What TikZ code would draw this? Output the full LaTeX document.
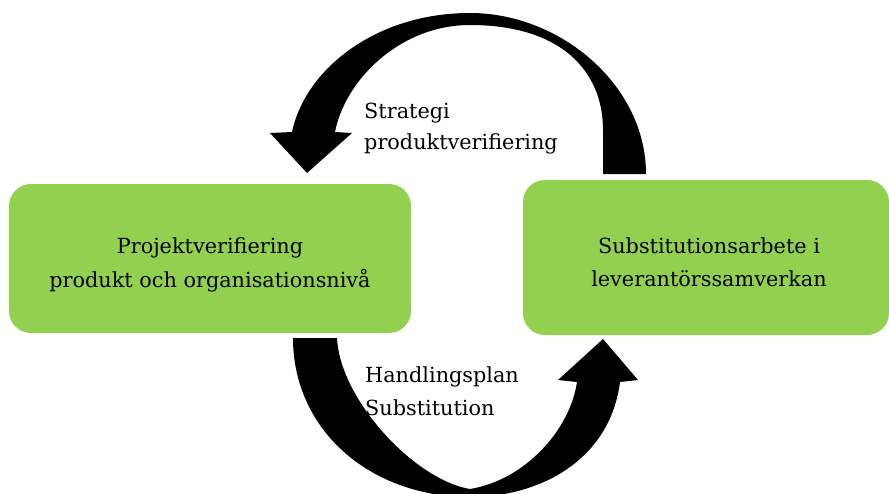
\documentclass[tikz,border=0pt]{standalone}
\usepackage{fontspec}
\setmainfont{DejaVu Serif}
\definecolor{boxgreen}{HTML}{92D050}
\begin{document}
\begin{tikzpicture}[x=1pt,y=-1pt,
  greenbox/.style={fill=boxgreen,draw=none,rounded corners=22pt,minimum width=#1,inner sep=0pt},
  lbl/.style={font=\fontsize{20.8}{#1}\selectfont,inner sep=0pt,text=black},
  blockarrow/.style={fill=black,draw=none,line join=round}]
\useasboundingbox (0,0) rectangle (889,493);
\clip (0,0) rectangle (889,493);

% boxes
\node[greenbox=402pt,minimum height=149pt] (left) at (210,258.5) {};
\node[greenbox=366pt,minimum height=155pt] (right) at (706,257.5) {};

% box texts (anchor base = last line)
\node[lbl=33.5,align=center,anchor=base] (lefttext) at (210,287) {Projektverifiering\\produkt och organisationsnivå};
\node[lbl=32.5,align=center,anchor=base] (righttext) at (709,286) {Substitutionsarbete i\\leverantörssamverkan};

% top arrow
\fill[blockarrow] (603,174) -- (646,174)
  .. controls (646,85) and (560,13) .. (470,13)
  .. controls (375,13) and (305,70) .. (292,132)
  -- (270,133) -- (307,173) -- (352,133) -- (335,132)
  .. controls (345,80) and (400,25) .. (470,25)
  .. controls (560,25) and (603,70) .. (603,130)
  -- cycle;

% bottom arrow
\fill[blockarrow] (293,338) -- (337,338)
  .. controls (340,400) and (415,480) .. (470,489)
  .. controls (525,480) and (570,430) .. (577,382)
  -- (558,380) -- (603,339) -- (638,380) -- (620,382)
  .. controls (610,460) and (540,497) .. (470,497)
  .. controls (370,497) and (293,430) .. (293,338)
  -- cycle;

% arrow labels
\node[lbl=31,align=left,anchor=base west] (toplabel) at (364,149) {Strategi\\produktverifiering};
\node[lbl=33,align=left,anchor=base west] (bottomlabel) at (365,415) {Handlingsplan\\Substitution};
\end{tikzpicture}
\end{document}
